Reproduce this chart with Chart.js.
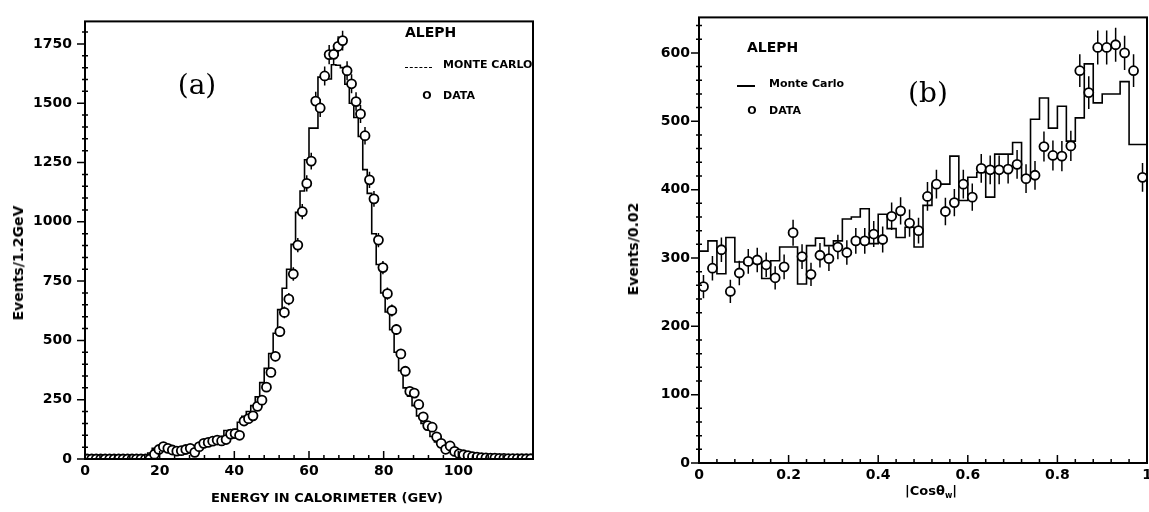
<!DOCTYPE html>
<html>
<head>
<meta charset="utf-8">
<script src="https://cdn.jsdelivr.net/npm/chart.js@4.4.0/dist/chart.umd.min.js"></script>
<style>
  html, body { margin: 0; padding: 0; background: #fff; }
  body { width: 1149px; height: 512px; position: relative; overflow: hidden;
         font-family: "DejaVu Sans", sans-serif; color: #000; }
  .box { position: absolute; top: 0; height: 512px; }
  #boxA { left: 0; width: 560px; }
  #boxB { left: 560px; width: 600px; }
  .t { position: absolute; font-weight: bold; white-space: nowrap; line-height: 1; transform: translateY(-50%); }
  .c { transform: translate(-50%, -50%); }
  .rot { transform: translate(-50%, -50%) rotate(-90deg); }
  .tag { font-family: "DejaVu Serif", serif; font-weight: normal; font-size: 28px; }
  .swatch { position: absolute; height: 0; }
</style>
</head>
<body>
<div class="box" id="boxA"><canvas id="chartA" width="560" height="512"></canvas></div>
<div class="box" id="boxB"><canvas id="chartB" width="600" height="512"></canvas></div>

<!-- panel (a) texts -->
<div class="t rot" style="left:18px; top:263px; font-size:14px;">Events/1.2GeV</div>
<div class="t c" style="left:327px; top:497px; font-size:13px;">ENERGY IN CALORIMETER (GEV)</div>
<div class="t" style="left:405px; top:32px; font-size:14px;">ALEPH</div>
<div class="swatch" style="left:405px; top:67px; width:27px; border-top:1.5px dashed #000;"></div>
<div class="t" style="left:443px; top:64px; font-size:11px;">MONTE CARLO</div>
<div class="t c" style="left:427px; top:95px; font-size:11px;">O</div>
<div class="t" style="left:443px; top:95px; font-size:11px;">DATA</div>
<div class="t c tag" style="left:197px; top:85px;">(a)</div>

<!-- panel (b) texts -->
<div class="t rot" style="left:633px; top:249px; font-size:14px;">Events/0.02</div>
<div class="t c" style="left:931px; top:492px; font-size:13px;">|Cosθ<sub style="font-size:8px;">w</sub>|</div>
<div class="t" style="left:747px; top:47px; font-size:14px;">ALEPH</div>
<div class="swatch" style="left:737px; top:85px; width:18px; border-top:2px solid #000;"></div>
<div class="t" style="left:769px; top:83px; font-size:11px;">Monte Carlo</div>
<div class="t c" style="left:752px; top:110px; font-size:11px;">O</div>
<div class="t" style="left:769px; top:110px; font-size:11px;">DATA</div>
<div class="t c tag" style="left:928px; top:93px;">(b)</div>

<script>
// ------------------------------------------------------------
// (a) energy in calorimeter, 100 bins of 1.2 GeV (0 - 120 GeV)
// ------------------------------------------------------------
const binWidthA = 1.2;
const mcA = [
  0, 0, 0, 0, 0, 0, 0, 0, 0, 0, 0, 0, 0, 0, 0,
  25, 45, 48, 42, 36, 34, 38, 42, 45, 48,
  55, 62, 68, 75, 80, 88, 95, 120, 122, 125,
  155, 180, 200, 225, 262, 322, 382, 445, 530, 630,
  720, 800, 905, 1040, 1130, 1262, 1395, 1395, 1610, 1622,
  1602, 1662, 1660, 1650, 1580, 1500, 1440, 1360, 1220, 1120,
  950, 820, 700, 620, 545, 450, 372, 300, 265, 225,
  182, 150, 125, 95, 72, 55, 45, 35, 28, 22,
  16, 12, 9, 7, 6, 5, 4, 4, 3, 3, 2, 2, 2, 1, 1
];
const dataA = [
  0, 0, 0, 0, 0, 0, 0, 0, 0, 0, 0, 0, 0, 0, 0,
  20, 40, 52, 45, 38, 33, 35, 40, 45, 28,
  52, 66, 70, 75, 80, 76, 82, 105, 107, 100,
  160, 170, 182, 222, 248, 303, 365, 433, 537, 618,
  674, 780, 902, 1043, 1162, 1256, 1509, 1480, 1615, 1705,
  1706, 1740, 1764, 1637, 1582, 1507, 1455, 1363, 1177, 1097,
  923, 807, 697, 626, 546, 443, 370, 285, 278, 230,
  178, 141, 134, 93, 66, 41, 55, 32, 22, 18,
  14, 10, 8, 6, 5, 4, 4, 3, 3, 2, 2, 2, 1, 1, 1
];
const errA = [
  0, 0, 0, 0, 0, 0, 0, 0, 0, 0, 0, 0, 0, 0, 0,
  4, 6, 7, 7, 6, 6, 6, 6, 7, 5,
  7, 8, 8, 9, 9, 9, 9, 10, 10, 10,
  13, 13, 13, 15, 16, 17, 19, 21, 23, 25,
  26, 28, 30, 32, 34, 35, 39, 38, 40, 41,
  41, 42, 42, 40, 40, 39, 38, 37, 34, 33,
  30, 28, 26, 25, 23, 21, 19, 17, 17, 15,
  13, 12, 12, 10, 8, 6, 7, 6, 5, 4,
  4, 3, 3, 2, 2, 2, 2, 2, 2, 1, 1, 1, 1, 1, 1
];
const xTicksA = [0, 20, 40, 60, 80, 100];
const yTicksA = [0, 250, 500, 750, 1000, 1250, 1500, 1750];

// ------------------------------------------------------------
// (b) |cos theta| distribution, 50 bins of 0.02
// ------------------------------------------------------------
const binWidthB = 0.02;
const mcB = [
  298, 310, 325, 277, 330, 294, 292, 292, 270, 296,
  316, 316, 262, 318, 329, 318, 325, 357, 360, 372,
  321, 364, 343, 330, 345, 316, 377, 408, 408, 449,
  384, 418, 425, 389, 452, 452, 469, 418, 503, 534,
  490, 522, 471, 505, 584, 527, 540, 540, 558, 466
];
const dataB = [
  258, 285, 312, 251, 278, 295, 297, 290, 271, 287,
  337, 302, 276, 304, 299, 316, 308, 325, 325, 335,
  327, 361, 369, 351, 340, 390, 408, 368, 381, 408,
  389, 431, 429, 429, 430, 437, 416, 421, 463, 450,
  449, 464, 574, 542, 608, 608, 612, 600, 574, 418
];
const errB = [
  17, 18, 18, 17, 18, 18, 18, 18, 17, 18,
  19, 18, 17, 18, 18, 18, 18, 19, 19, 19,
  19, 20, 20, 20, 19, 21, 21, 20, 20, 21,
  20, 21, 21, 21, 21, 21, 21, 21, 22, 22,
  22, 22, 24, 24, 25, 25, 25, 25, 24, 21
];
const xTicksB = [0, 0.2, 0.4, 0.6, 0.8, 1];
const yTicksB = [0, 100, 200, 300, 400, 500, 600];

// ------------------------------------------------------------
// helpers to turn the arrays into chart points
// ------------------------------------------------------------
function histPoints(values, w) {
  const pts = values.map((v, i) => ({ x: i * w, y: v }));
  pts.push({ x: values.length * w, y: values[values.length - 1] });
  return pts;
}
function dataPoints(values, w) {
  return values.map((v, i) => ({ x: (i + 0.5) * w, y: v }));
}
function errPoints(values, errs, w) {
  const pts = [];
  values.forEach((v, i) => {
    const x = (i + 0.5) * w;
    pts.push({ x: x, y: v - errs[i] }, { x: x, y: v + errs[i] }, { x: x, y: null });
  });
  return pts;
}

// frame box + axis tick marks (inward on x, outward on y)
const frameTicks = {
  id: "frameTicks",
  afterDraw(chart, args, o) {
    const { ctx, chartArea: a, scales } = chart;
    const x = scales.x, y = scales.y;
    ctx.save();
    ctx.strokeStyle = "#000";
    ctx.lineWidth = 2;
    ctx.strokeRect(a.left, a.top, a.right - a.left, a.bottom - a.top);
    ctx.lineWidth = 1.5;
    ctx.beginPath();
    for (let v = x.min; v <= x.max + 1e-9; v += o.xMinor) {
      const px = x.getPixelForValue(v);
      const major = Math.abs(v / o.xMajor - Math.round(v / o.xMajor)) < 1e-6;
      ctx.moveTo(px, a.bottom);
      ctx.lineTo(px, a.bottom - (major ? 8 : 4));
    }
    for (let v = y.min; v <= y.max + 1e-9; v += o.yMinor) {
      const py = y.getPixelForValue(v);
      const major = Math.abs(v / o.yMajor - Math.round(v / o.yMajor)) < 1e-6;
      if (major) {
        ctx.moveTo(a.left - 8, py);
        ctx.lineTo(a.left, py);
      } else {
        ctx.moveTo(a.left - 3, py);
        ctx.lineTo(a.left + 3, py);
      }
    }
    ctx.stroke();
    ctx.restore();
  }
};

const tickFont = { family: "DejaVu Sans", size: 14, weight: "bold" };
const plainLabel = (v) => String(v); // no thousands separator, "1" not "1.0"

function makeChart(id, cfg) {
  const ctx = document.getElementById(id).getContext("2d");
  return new Chart(ctx, {
    type: "scatter",
    data: {
      datasets: [
        {
          label: "DATA",
          data: cfg.points,
          pointStyle: "circle",
          pointRadius: 4.5,
          pointBorderWidth: 1.8,
          pointBorderColor: "#000",
          pointBackgroundColor: "#fff",
          showLine: false,
          order: 0,
        },
        {
          label: "errors",
          data: cfg.errors,
          showLine: true,
          spanGaps: false,
          borderColor: "#000",
          borderWidth: 1.5,
          pointRadius: 0,
          order: 1,
        },
        {
          label: "MONTE CARLO",
          data: cfg.hist,
          showLine: true,
          stepped: "after",
          borderColor: "#000",
          borderWidth: 1.6,
          pointRadius: 0,
          order: 2,
        },
      ],
    },
    options: {
      responsive: false,
      animation: false,
      events: [],
      layout: { padding: cfg.padding },
      scales: {
        x: {
          type: "linear",
          min: cfg.xMin,
          max: cfg.xMax,
          grid: { display: false, drawTicks: false },
          border: { display: false },
          afterBuildTicks: (s) => { s.ticks = cfg.xTicks.map((v) => ({ value: v })); },
          afterFit: (s) => { s.height = cfg.xHeight; },
          ticks: { color: "#000", font: tickFont, padding: 4, autoSkip: false, maxRotation: 0, callback: plainLabel },
        },
        y: {
          type: "linear",
          min: cfg.yMin,
          max: cfg.yMax,
          grid: { display: false, drawTicks: false },
          border: { display: false },
          afterBuildTicks: (s) => { s.ticks = cfg.yTicks.map((v) => ({ value: v })); },
          afterFit: (s) => { s.width = cfg.yWidth; },
          ticks: { color: "#000", font: tickFont, padding: cfg.yPad, callback: plainLabel },
        },
      },
      plugins: {
        legend: { display: false },
        tooltip: { enabled: false },
        frameTicks: cfg.ticks,
      },
    },
    plugins: [frameTicks],
  });
}

makeChart("chartA", {
  points: dataPoints(dataA, binWidthA),
  errors: errPoints(dataA, errA, binWidthA),
  hist: histPoints(mcA, binWidthA),
  xMin: 0, xMax: 120, yMin: 0, yMax: 1845,
  xTicks: xTicksA, yTicks: yTicksA,
  padding: { left: 0, right: 27, top: 10, bottom: 0 },
  xHeight: 53, yWidth: 85, yPad: 13,
  ticks: { xMajor: 20, xMinor: 4, yMajor: 250, yMinor: 50 },
});

makeChart("chartB", {
  points: dataPoints(dataB, binWidthB),
  errors: errPoints(dataB, errB, binWidthB),
  hist: histPoints(mcB, binWidthB),
  xMin: 0, xMax: 1, yMin: 0, yMax: 652,
  xTicks: xTicksB, yTicks: yTicksB,
  padding: { left: 0, right: 13, top: 16, bottom: 0 },
  xHeight: 49, yWidth: 139, yPad: 9,
  ticks: { xMajor: 0.2, xMinor: 0.04, yMajor: 100, yMinor: 20 },
});
</script>
</body>
</html>
